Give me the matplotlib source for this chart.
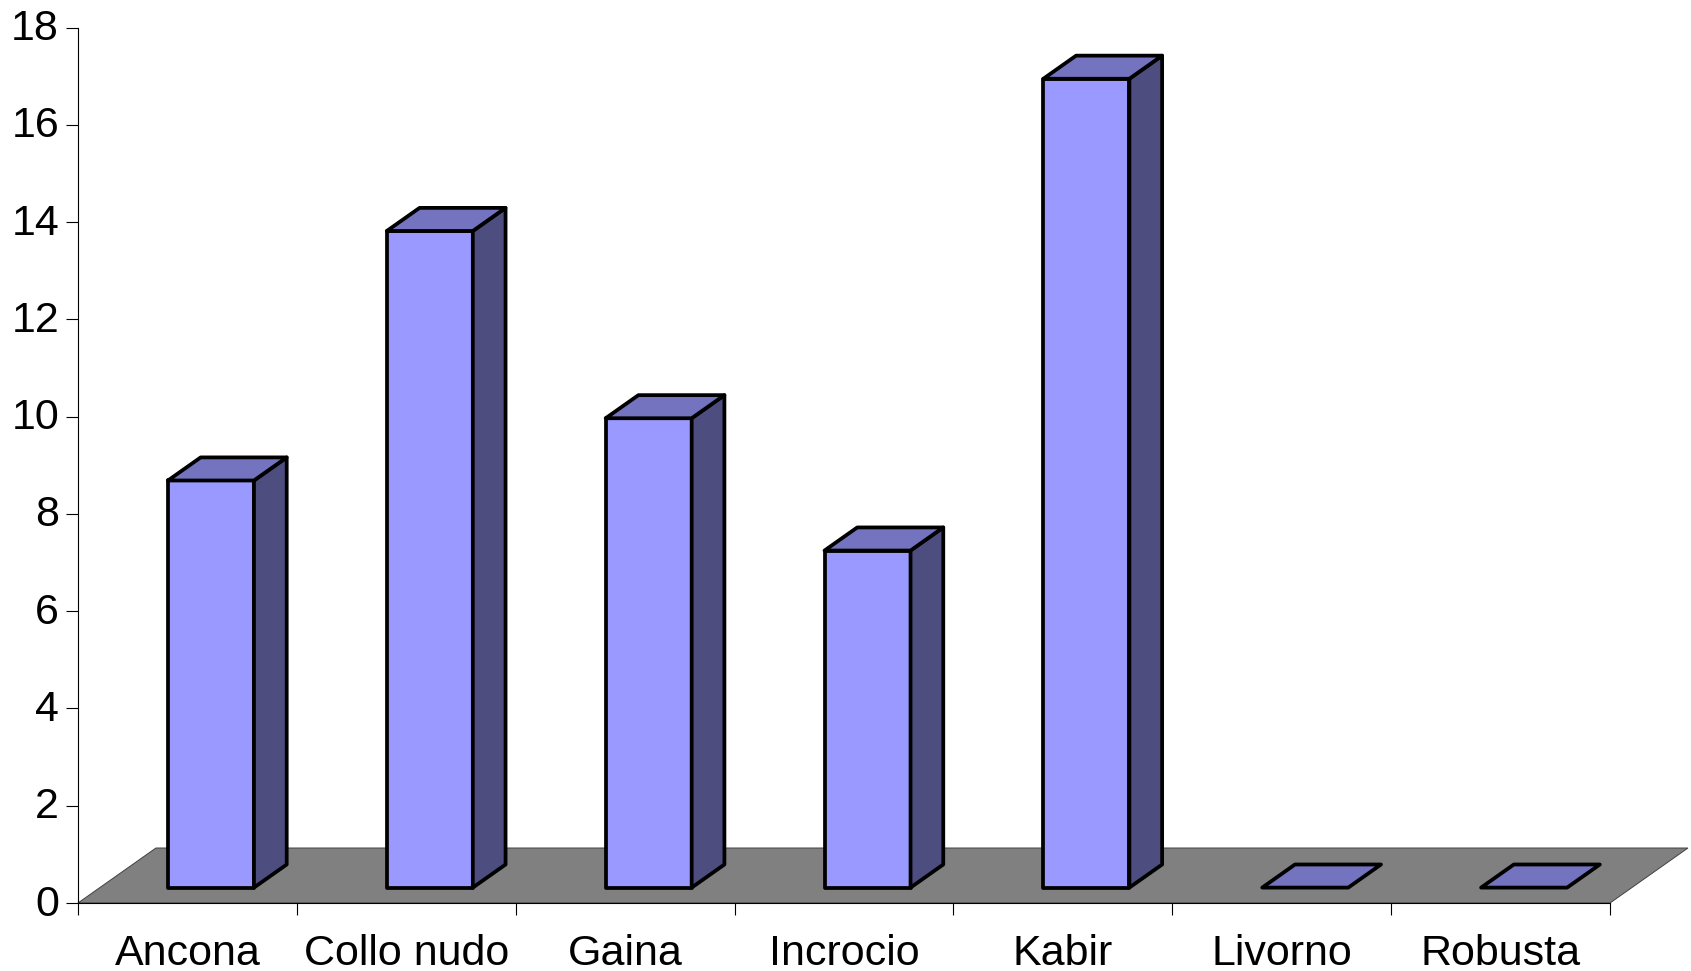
import matplotlib
matplotlib.use('Agg')
import matplotlib.pyplot as plt
from matplotlib.patches import Polygon
from matplotlib.transforms import ScaledTranslation

plt.rcParams['font.family'] = ['Liberation Sans', 'DejaVu Sans']

# Valori
razze = ['Ancona', 'Collo nudo', 'Gaina', 'Incrocio', 'Kabir', 'Livorno', 'Robusta']
valori = [8.37, 13.5, 9.65, 6.93, 16.63, 0, 0]
tick_y = [0, 2, 4, 6, 8, 10, 12, 14, 16, 18]

# Finta prospettiva: profondita del pavimento, in unita dei dati
depth_x = 78 / 219
depth_y = 55 / 48.64
bar_left = 0.411
bar_width = 0.393
front = 0.28    # frazione della profondita davanti alla barra
spess = 0.42    # frazione della profondita occupata dalla barra

W, H = 1691, 971
fig = plt.figure(figsize=(W / 100, H / 100), dpi=100)
ax = fig.add_axes([78 / W, 1 - 903 / H, (1610 - 78) / W, (903 - 27.5) / H])
ax.set_xlim(0, 7)
ax.set_ylim(0, 18)
ax.patch.set_visible(False)

# pavimento
n = len(razze)
pavimento = Polygon([(0, 0), (n, 0), (n + depth_x, depth_y), (depth_x, depth_y)],
                    closed=True, facecolor='#808080', edgecolor='#404040',
                    linewidth=0.7, clip_on=False, zorder=1)
ax.add_patch(pavimento)

for i, v in enumerate(valori):
    x0 = i + bar_left
    x1 = x0 + bar_width
    y0 = front * depth_y
    y1 = y0 + v
    dx = spess * depth_x
    dy = spess * depth_y
    stile = dict(closed=True, edgecolor='black', linewidth=2.7, joinstyle='round',
                 clip_on=False, zorder=3)
    if v > 0:
        ax.add_patch(Polygon([(x0, y0), (x1, y0), (x1, y1), (x0, y1)],
                             facecolor='#9999FF', **stile))
        ax.add_patch(Polygon([(x1, y0), (x1 + dx, y0 + dy), (x1 + dx, y1 + dy), (x1, y1)],
                             facecolor='#4D4D80', **stile))
    ax.add_patch(Polygon([(x0, y1), (x1, y1), (x1 + dx, y1 + dy), (x0 + dx, y1 + dy)],
                         facecolor='#7373BF', **stile))

for lato in ['top', 'right']:
    ax.spines[lato].set_visible(False)
for lato in ['left', 'bottom']:
    ax.spines[lato].set_linewidth(0.8)
    ax.spines[lato].set_zorder(2)

ax.set_yticks(tick_y)
ax.tick_params(axis='y', length=8.6, width=0.8, labelsize=31, pad=5)
# etichette y un po' piu in alto, come nell'originale
su = ScaledTranslation(0, 3 / 100, fig.dpi_scale_trans)
for t in ax.get_yticklabels():
    t.set_transform(t.get_transform() + su)

ax.set_xticks(range(n + 1))
ax.set_xticklabels([])
ax.tick_params(axis='x', which='major', length=8.6, width=0.8)
ax.set_xticks([i + 0.5 for i in range(n)], minor=True)
ax.set_xticklabels(razze, minor=True)
ax.tick_params(axis='x', which='minor', length=0, labelsize=31, pad=22)

fig.savefig('out.png', dpi=100, facecolor='white')
